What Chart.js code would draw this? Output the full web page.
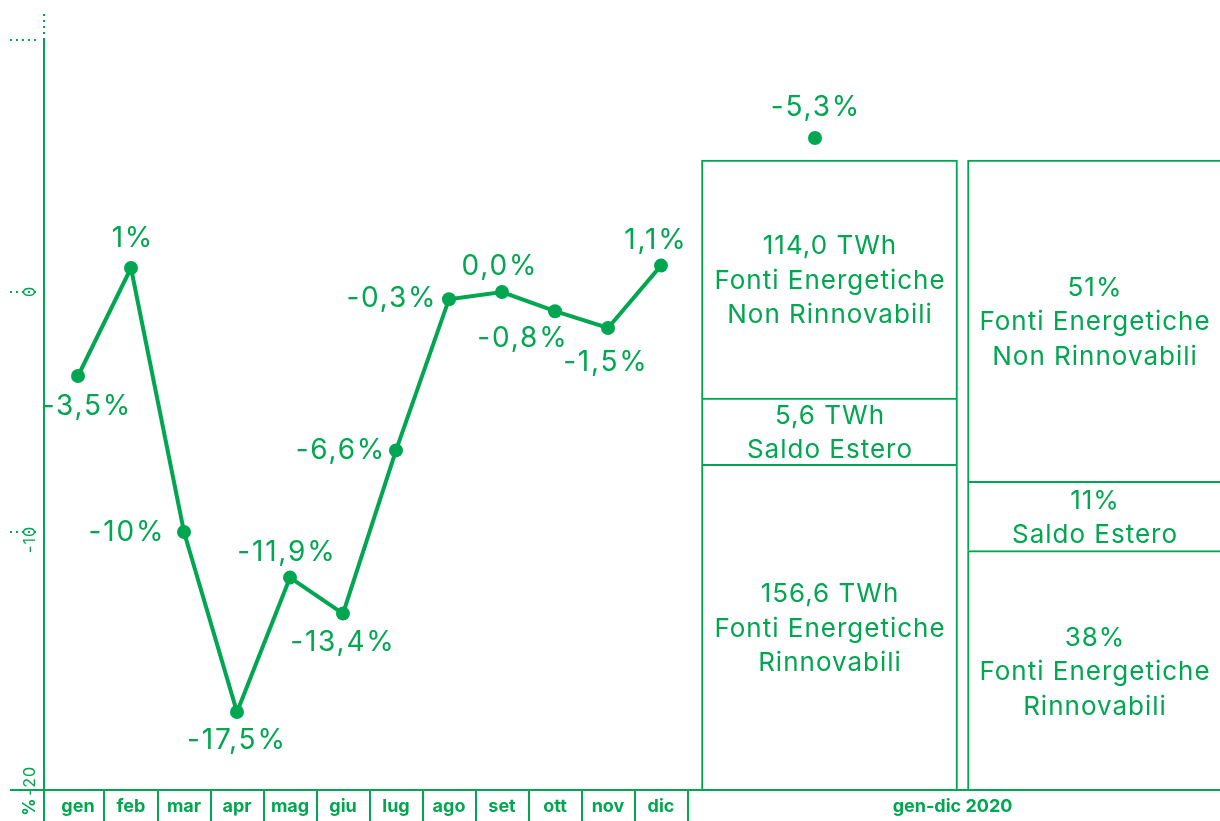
<!DOCTYPE html>
<html lang="it">
<head>
    <meta charset="UTF-8">
    <title>Variazione domanda elettrica 2020</title>
    <script src="https://cdn.jsdelivr.net/npm/chart.js"></script>
    <style>
        body { margin: 0; background: #fff; }
        canvas { display: block; }
    </style>
</head>
<body>
    <canvas id="grafico" width="1220" height="821"></canvas>

    <script>
        // dati
        const mesi = ['gen', 'feb', 'mar', 'apr', 'mag', 'giu', 'lug', 'ago', 'set', 'ott', 'nov', 'dic'];
        const variazioneMensile = [-3.5, 1, -10, -17.5, -11.9, -13.4, -6.6, -0.3, 0.0, -0.8, -1.5, 1.1];
        const periodoAnnuale = 'gen-dic 2020';
        const variazioneAnnuale = -5.3;
        const yTicks = [0, -10, -20];

        // riquadri a destra (dal basso verso l'alto)
        const fonti = [['Fonti Energetiche', 'Rinnovabili'], ['Saldo Estero'], ['Fonti Energetiche', 'Non Rinnovabili']];
        const energiaTWh = [156.6, 5.6, 114.0];
        const quotaPercento = [38, 11, 51];
        const altezzaRiquadroTWh = [51.7, 10.5, 37.8]; // altezze come disegnate nel riquadro di sinistra

        const VERDE = '#00a650';
        const FONT = 'Inter, "Noto Sans", sans-serif';

        // posizioni sull'asse x (indice mese)
        const X_ANNUALE = 13.906;
        const X_RIQ1 = 14.179;
        const X_RIQ2 = 19.198;
        const X_ETICHETTA_ANNO = 16.5;
        const Y_PUNTO_ANNUALE = 103.5; // sopra il 100% del riquadro

        // spostamento delle etichette rispetto ai punti [dx, dy]
        const offsetEtichette = [[8, 31], [1, -29], [-58, 1], [-1, 29], [-4, -25], [-1, 29],
            [-56, 0], [-58, -1], [-3, -25], [-33, 27], [-3, 35], [-6, -25]];

        function fmt(v) {
            if (Number.isInteger(v) && v !== 0) return v + '%';
            return v.toFixed(1).replace('.', ',') + '%';
        }

        function segmenti(valori) {
            let base = 0;
            return valori.map(v => { const s = [base, base + v]; base += v; return s; });
        }
        const seg1 = segmenti(altezzaRiquadroTWh);
        const seg2 = segmenti(quotaPercento);

        const datasetRiquadri = [0, 1, 2].map(k => ({
            type: 'bar',
            xAxisID: 'x',
            yAxisID: 'yBox',
            data: [{ x: X_RIQ1, y: seg1[k] }, { x: X_RIQ2, y: seg2[k] }],
            backgroundColor: '#ffffff',
            borderColor: VERDE,
            borderWidth: 2,
            borderSkipped: 'start',
            barThickness: 256,
            grouped: false,
            order: 3
        }));

        // testo con spaziatura tra le lettere, centrato
        function testo(ctx, t, x, y, spazio) {
            ctx.letterSpacing = spazio + 'px';
            ctx.fillText(t, x + spazio / 2, y);
            ctx.letterSpacing = '0px';
        }

        const assiEDettagli = {
            id: 'assiEDettagli',
            afterDatasetsDraw(chart) {
                const ctx = chart.ctx;
                const area = chart.chartArea;
                const x = chart.scales.x;
                const y = chart.scales.y;
                ctx.save();
                ctx.strokeStyle = VERDE;
                ctx.fillStyle = VERDE;

                // asse verticale
                ctx.lineWidth = 2;
                ctx.beginPath();
                ctx.moveTo(area.left, area.top);
                ctx.lineTo(area.left, chart.height);
                ctx.stroke();
                // asse orizzontale
                ctx.beginPath();
                ctx.moveTo(10, area.bottom);
                ctx.lineTo(chart.width, area.bottom);
                ctx.stroke();

                // linee divisorie dei mesi
                ctx.beginPath();
                for (let i = 0; i < mesi.length; i++) {
                    const px = Math.round(x.getPixelForValue(i + 0.5));
                    ctx.moveTo(px, area.bottom);
                    ctx.lineTo(px, chart.height);
                }
                ctx.stroke();

                // tratteggi
                ctx.setLineDash([2, 4]);
                ctx.beginPath();
                ctx.moveTo(area.left, area.top);
                ctx.lineTo(area.left, 10);
                ctx.moveTo(10, area.top);
                ctx.lineTo(area.left - 4, area.top);
                yTicks.forEach(t => {
                    if (t === yTicks[yTicks.length - 1]) return;
                    const py = y.getPixelForValue(t);
                    ctx.moveTo(10, py);
                    ctx.lineTo(area.left - 4, py);
                });
                ctx.stroke();
                ctx.setLineDash([]);

                // etichette asse y ruotate
                ctx.font = '16px ' + FONT;
                ctx.textAlign = 'right';
                ctx.textBaseline = 'middle';
                yTicks.forEach(t => {
                    const py = y.getPixelForValue(t);
                    ctx.save();
                    ctx.translate(30, Math.min(py - 6, area.bottom - 5));
                    ctx.rotate(-Math.PI / 2);
                    ctx.letterSpacing = '1px';
                    ctx.fillText(String(t), 0, 0);
                    ctx.restore();
                });
                ctx.save();
                ctx.font = 'bold 17px ' + FONT;
                ctx.textAlign = 'center';
                ctx.translate(30, 807);
                ctx.rotate(-Math.PI / 2);
                ctx.fillText('%', 0, 0);
                ctx.restore();

                // etichette dei punti
                ctx.font = '28px ' + FONT;
                ctx.textAlign = 'center';
                ctx.textBaseline = 'middle';
                const linea = chart.getDatasetMeta(0).data;
                linea.forEach((p, i) => {
                    const [dx, dy] = offsetEtichette[i];
                    testo(ctx, fmt(variazioneMensile[i]), p.x + dx, p.y + dy, 1.8);
                });
                const pa = chart.getDatasetMeta(1).data[0];
                testo(ctx, fmt(variazioneAnnuale), pa.x, pa.y - 30, 1.8);

                // testi nei riquadri
                ctx.font = '26px ' + FONT;
                for (let k = 0; k < 3; k++) {
                    const els = chart.getDatasetMeta(2 + k).data;
                    const testi = [
                        [energiaTWh[k].toFixed(1).replace('.', ',') + ' TWh', ...fonti[k]],
                        [quotaPercento[k] + '%', ...fonti[k]]
                    ];
                    els.forEach((el, j) => {
                        const righe = testi[j];
                        const cy = (el.y + el.base) / 2 + 2;
                        const cx = j === 0 ? el.x : el.x - 1;
                        righe.forEach((r, n) => {
                            testo(ctx, r, cx, cy + (n - (righe.length - 1) / 2) * 34.5, 1);
                        });
                    });
                }
                ctx.restore();
            }
        };

        new Chart(document.getElementById('grafico'), {
            type: 'line',
            data: {
                datasets: [
                    {
                        type: 'line',
                        yAxisID: 'y',
                        data: variazioneMensile.map((v, i) => ({ x: i, y: v })),
                        borderColor: VERDE,
                        borderWidth: 4,
                        tension: 0,
                        pointRadius: 7,
                        pointBackgroundColor: VERDE,
                        pointBorderWidth: 0,
                        clip: false,
                        order: 1
                    },
                    {
                        type: 'scatter',
                        yAxisID: 'yBox',
                        data: [{ x: X_ANNUALE, y: Y_PUNTO_ANNUALE }],
                        pointRadius: 7,
                        pointBackgroundColor: VERDE,
                        pointBorderWidth: 0,
                        showLine: false,
                        clip: false,
                        order: 1
                    },
                    ...datasetRiquadri
                ]
            },
            options: {
                responsive: false,
                animation: false,
                layout: { autoPadding: false, padding: { left: 44, top: 40, right: 0, bottom: 0 } },
                plugins: {
                    legend: { display: false },
                    tooltip: { enabled: false }
                },
                scales: {
                    x: {
                        type: 'linear',
                        offset: false,
                        min: -0.6415,
                        max: 21.547,
                        afterFit: s => { s.height = 31; s.paddingLeft = 0; s.paddingRight = 0; },
                        afterBuildTicks: s => {
                            s.ticks = mesi.map((m, i) => ({ value: i })).concat([{ value: X_ETICHETTA_ANNO }]);
                        },
                        ticks: {
                            autoSkip: false,
                            maxRotation: 0,
                            padding: 6,
                            color: VERDE,
                            font: { family: FONT, size: 18, weight: 'bold' },
                            callback: v => (v === X_ETICHETTA_ANNO ? periodoAnnuale : mesi[v])
                        },
                        grid: { display: false, drawTicks: false, offset: false },
                        border: { display: false }
                    },
                    y: {
                        display: false,
                        min: -20.75,
                        max: 10.5
                    },
                    yBox: {
                        display: false,
                        min: 0,
                        max: 100 * 750 / 630
                    }
                }
            },
            plugins: [assiEDettagli]
        });
    </script>
</body>
</html>
